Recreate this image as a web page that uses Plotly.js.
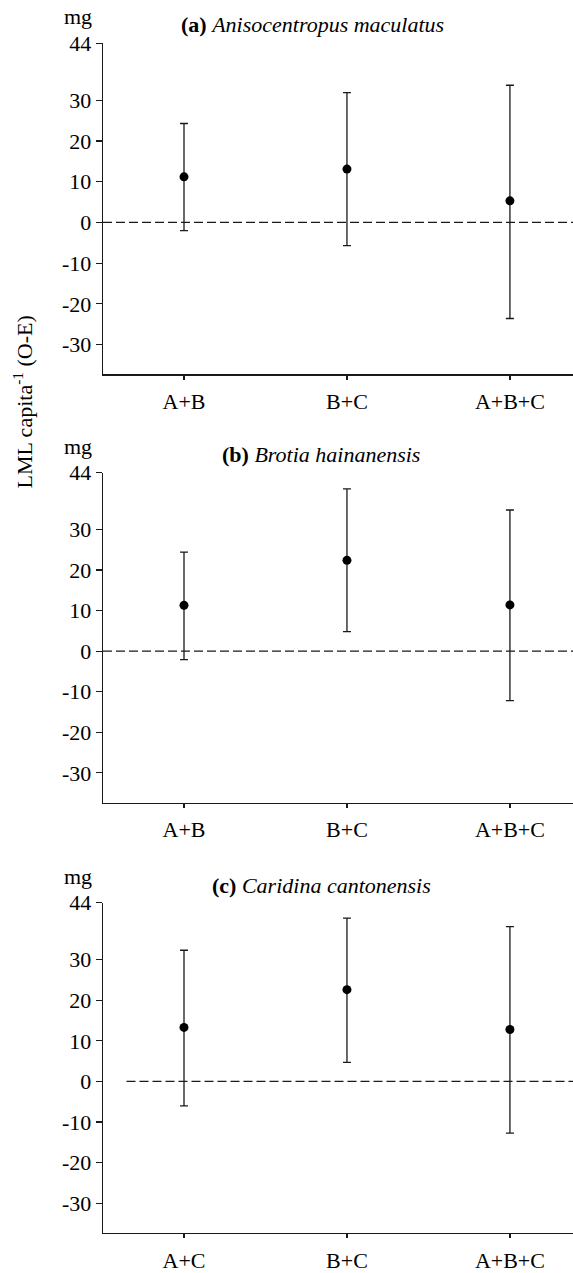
<!DOCTYPE html>
<html>
<head>
<meta charset="utf-8">
<script src="https://cdn.plot.ly/plotly-3.0.1.min.js"></script>
<style>html,body{margin:0;padding:0;background:#fff;}#chart{width:573px;height:1273px;}</style>
</head>
<body>
<div id="chart"></div>
<script>
// ---- data ----
const categoriesA = ["A+B", "B+C", "A+B+C"];
const categoriesB = ["A+B", "B+C", "A+B+C"];
const categoriesC = ["A+C", "B+C", "A+B+C"];

const meanA  = [11.2, 13.1, 5.3];
const upperA = [24.3, 31.9, 33.7];
const lowerA = [-2.0, -5.7, -23.6];

const meanB  = [11.3, 22.4, 11.4];
const upperB = [24.4, 40.0, 34.8];
const lowerB = [-2.1, 4.8, -12.2];

const meanC  = [13.3, 22.6, 12.8];
const upperC = [32.3, 40.2, 38.1];
const lowerC = [-6.0, 4.7, -12.7];

const titles = [
  "<b>(a)</b> <i>Anisocentropus maculatus</i>",
  "<b>(b)</b> <i>Brotia hainanensis</i>",
  "<b>(c)</b> <i>Caridina cantonensis</i>"
];
const yTickVals = [-30, -20, -10, 0, 10, 20, 30, 44];
const yTickText = ["-30", "-20", "-10", "0", "10", "20", "30", "44"];
const yTitle = "LML capita<sup>-1</sup> (O-E)";
const unitLabel = "mg";

// ---- figure ----
const W = 573, H = 1273;
const FONT = "Liberation Serif, Times New Roman, serif";
const INK = "#1a1a1a";

function trace(cats, mean, up, lo, xa, ya) {
  return {
    type: "scatter", mode: "markers",
    x: cats, y: mean, xaxis: xa, yaxis: ya,
    marker: {color: "#000", size: 9},
    error_y: {
      type: "data", symmetric: false,
      array: up.map((u, i) => u - mean[i]),
      arrayminus: lo.map((l, i) => mean[i] - l),
      color: INK, thickness: 1.3, width: 4
    },
    showlegend: false, hoverinfo: "skip"
  };
}

const data = [
  trace(categoriesA, meanA, upperA, lowerA, "x", "y"),
  trace(categoriesB, meanB, upperB, lowerB, "x2", "y2"),
  trace(categoriesC, meanC, upperC, lowerC, "x3", "y3")
];

const xDomain = [103 / W, 1];
// panel pixel extents (top, bottom)
const panels = [[43.3, 374.3], [472.7, 802.5], [902.7, 1233.0]];
const xRange = [-0.497, 2.387];
const yRange = [-37.3, 44];

function xa(anchor) {
  return {
    domain: xDomain, anchor: anchor, range: xRange, type: "category",
    showline: true, linecolor: INK, linewidth: 1.3,
    ticks: "outside", ticklen: 4, tickwidth: 1.2, tickcolor: INK,
    ticklabelstandoff: 3,
    showgrid: false, zeroline: false,
    tickfont: {family: FONT, size: 22, color: "#000"}
  };
}
function ya(anchor, p) {
  return {
    domain: [1 - p[1] / H, 1 - p[0] / H], anchor: anchor, range: yRange,
    showline: true, linecolor: INK, linewidth: 1.3,
    ticks: "outside", ticklen: 6, tickwidth: 1.2, tickcolor: INK,
    tickmode: "array", tickvals: yTickVals, ticktext: yTickText,
    showgrid: false, zeroline: false,
    tickfont: {family: FONT, size: 22, color: "#000"}
  };
}

const annotations = [];
const titleX = [312, 321, 321];
const titleY = [25, 454, 885];
const mgY = [17, 446, 876];
for (let i = 0; i < 3; i++) {
  annotations.push({
    text: titles[i], xref: "paper", yref: "paper",
    x: titleX[i] / W, y: 1 - titleY[i] / H, xanchor: "center", yanchor: "middle",
    showarrow: false, font: {family: FONT, size: 22, color: "#000"}
  });
  annotations.push({
    text: unitLabel, xref: "paper", yref: "paper",
    x: 77.5 / W, y: 1 - mgY[i] / H, xanchor: "center", yanchor: "middle",
    showarrow: false, font: {family: FONT, size: 22, color: "#000"}
  });
}
annotations.push({
  text: yTitle, xref: "paper", yref: "paper",
  x: 22 / W, y: 1 - 402.5 / H, xanchor: "center", yanchor: "middle",
  textangle: -90, showarrow: false, font: {family: FONT, size: 22, color: "#000"}
});

const dash = {color: INK, width: 1.3, dash: "9px,4px"};
const shapes = [
  {type: "line", xref: "x domain", yref: "y", x0: 0, x1: 1, y0: 0, y1: 0, line: dash, layer: "below"},
  {type: "line", xref: "x2 domain", yref: "y2", x0: 0, x1: 1, y0: 0, y1: 0, line: dash, layer: "below"},
  {type: "line", xref: "x3 domain", yref: "y3", x0: 0.05, x1: 1, y0: 0, y1: 0, line: dash, layer: "below"}
];

const layout = {
  width: W, height: H,
  margin: {l: 0, r: 0, t: 0, b: 0},
  paper_bgcolor: "#fff", plot_bgcolor: "#fff",
  font: {family: FONT, size: 22, color: "#000"},
  xaxis: xa("y"), xaxis2: xa("y2"), xaxis3: xa("y3"),
  yaxis: ya("x", panels[0]), yaxis2: ya("x2", panels[1]), yaxis3: ya("x3", panels[2]),
  annotations: annotations, shapes: shapes, showlegend: false
};

Plotly.newPlot("chart", data, layout, {displayModeBar: false, staticPlot: true});
</script>
</body>
</html>
